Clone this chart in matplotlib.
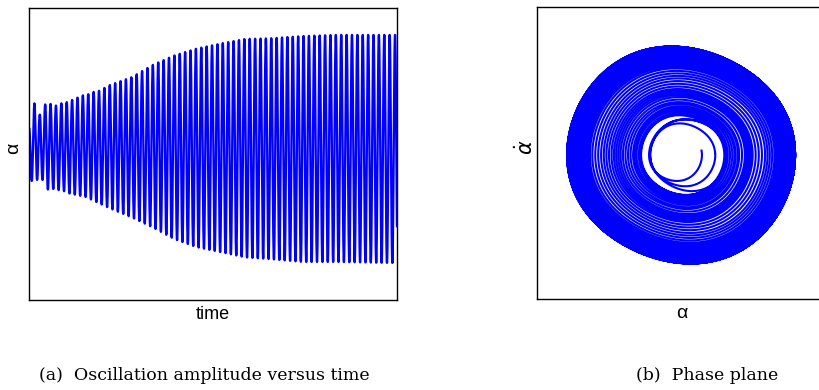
import numpy as np
import matplotlib.pyplot as plt

# envelope of the oscillation
# (cycle number, peak value) for the upper and lower envelope
up_n = [0, 1, 2, 3, 4, 5, 6, 7, 8, 9, 10, 11, 12, 13,
        15.0, 19.1, 23.1, 27.0, 31.1, 36.2, 40.2, 44.7, 50.8, 57.0, 68.4]
up_v = [0.18, 0.40, 0.30, 0.39, 0.395, 0.38, 0.40, 0.41, 0.43, 0.45, 0.47, 0.48, 0.50, 0.51,
        0.56, 0.63, 0.74, 0.82, 0.88, 0.93, 0.965, 0.97, 0.99, 1.0, 1.0]
lo_n = [0.5, 1.5, 2.5, 3.5, 4.5, 5.5, 6.5, 7.5, 8.5, 9.5, 10.5,
        15.0, 19.1, 23.1, 27.0, 31.1, 36.2, 40.2, 44.7, 50.8, 57.0, 68.4]
lo_v = [-0.28, -0.27, -0.27, -0.355, -0.35, -0.36, -0.37, -0.39, -0.40, -0.41, -0.42,
        -0.52, -0.60, -0.69, -0.79, -0.86, -0.91, -0.95, -0.965, -0.99, -0.99, -1.0]
n_cycles = 68.37   # number of cycles shown
h3 = 0.011         # small third harmonic (egg shaped limit cycle)

# build the signal
n = np.linspace(0, n_cycles, 30000)
up = np.interp(n, up_n, up_v)
lo = np.interp(n, lo_n, lo_v)
mid = (up + lo) / 2
amp = (up - lo) / 2
theta = 2 * np.pi * n
alpha = mid + amp * (np.cos(theta) + h3 * np.sin(3 * theta))
alpha_dot = np.gradient(alpha, n) / (2 * np.pi)

fig = plt.figure(figsize=(8.2, 3.9), dpi=100)
ax1 = fig.add_axes([29 / 820, 90 / 390, 368 / 820, 292 / 390])
ax2 = fig.add_axes([537 / 820, 91 / 390, 289 / 820, 292 / 390])

ax1.plot(n, alpha, color='#0000ff', lw=1.7)
ax1.set_xlim(0, n_cycles)
ax1.set_ylim(-1.325, 1.237)
ax1.set_xlabel('time', fontsize=13, family='Liberation Sans')
ax1.set_ylabel('α', fontsize=14, family='Liberation Sans')
ax1.yaxis.set_label_coords(-0.018, 0.52)

ax2.plot(alpha, alpha_dot, color='#0000ff', lw=1.5)
ax2.set_xlim(-1.263, 1.272)
ax2.set_ylim(-1.333, 1.37)
ax2.set_xlabel('α', fontsize=14, family='Liberation Sans')
ax2.set_ylabel(r'$\dot{\alpha}$', fontsize=15)
ax2.yaxis.set_label_coords(0.0, 0.52)

for ax in (ax1, ax2):
    ax.set_xticks([])
    ax.set_yticks([])
    for s in ax.spines.values():
        s.set_linewidth(1.0)

fig.text(204 / 820, 1 - 375 / 390, '(a)  Oscillation amplitude versus time',
         ha='center', va='center', fontsize=12.5, family='DejaVu Serif')
fig.text(707 / 820, 1 - 375 / 390, '(b)  Phase plane',
         ha='center', va='center', fontsize=12.5, family='DejaVu Serif')

fig.savefig('out.png', dpi=100)
